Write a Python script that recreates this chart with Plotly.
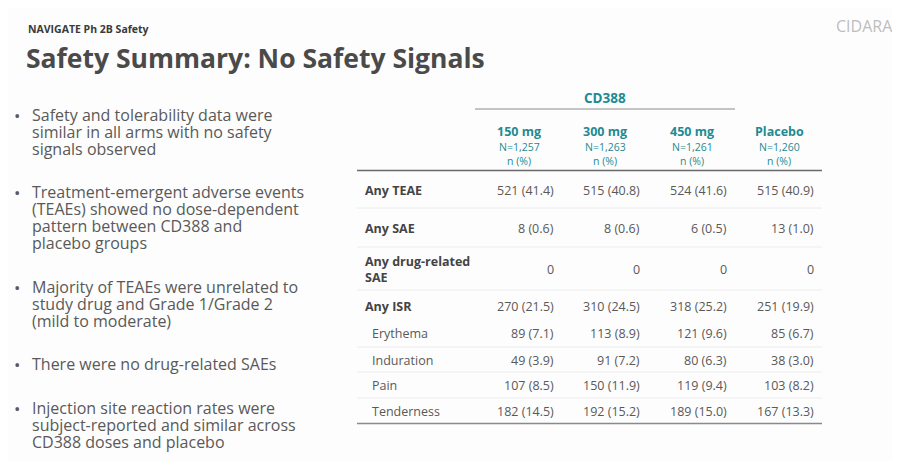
import plotly.graph_objects as go

# Slide text
kicker = "NAVIGATE Ph 2B Safety"
title = "Safety Summary: No Safety Signals"
logo = "CIDARA"

bullets = [
    ["Safety and tolerability data were", "similar in all arms with no safety", "signals observed"],
    ["Treatment-emergent adverse events", "(TEAEs) showed no dose-dependent",
     "pattern between CD388 and", "placebo groups"],
    ["Majority of TEAEs were unrelated to", "study drug and Grade 1/Grade 2", "(mild to moderate)"],
    ["There were no drug-related SAEs"],
    ["Injection site reaction rates were", "subject-reported and similar across",
     "CD388 doses and placebo"],
]

# Table data
group_label = "CD388"
arms = ["150 mg", "300 mg", "450 mg", "Placebo"]
arm_n = ["N=1,257", "N=1,263", "N=1,261", "N=1,260"]
rows = ["Any TEAE", "Any SAE", "Any drug-related<br>SAE", "Any ISR",
        "Erythema", "Induration", "Pain", "Tenderness"]
sub_rows = ["Erythema", "Induration", "Pain", "Tenderness"]

counts = {
    "150 mg":  [521, 8, 0, 270, 89, 49, 107, 182],
    "300 mg":  [515, 8, 0, 310, 113, 91, 150, 192],
    "450 mg":  [524, 6, 0, 318, 121, 80, 119, 189],
    "Placebo": [515, 13, 0, 251, 85, 38, 103, 167],
}
pcts = {
    "150 mg":  [41.4, 0.6, None, 21.5, 7.1, 3.9, 8.5, 14.5],
    "300 mg":  [40.8, 0.6, None, 24.5, 8.9, 7.2, 11.9, 15.2],
    "450 mg":  [41.6, 0.5, None, 25.2, 9.6, 6.3, 9.4, 15.0],
    "Placebo": [40.9, 1.0, None, 19.9, 6.7, 3.0, 8.2, 13.3],
}

TEAL = "#1f8a92"
DARK = "#444444"
GREY = "#595959"
FONT = "Open Sans"

fig = go.Figure()
ann = []
shapes = []

def txt(x, y, s, size, color, xanchor="left", weight="normal"):
    ann.append(dict(x=x, y=y, xref="x", yref="y", text=s, showarrow=False,
                    xanchor=xanchor, yanchor="middle", align="left", borderpad=0,
                    font=dict(family=FONT, size=size, color=color, weight=weight)))

def hline(x0, x1, y, color, width):
    shapes.append(dict(type="line", xref="x", yref="y", x0=x0, x1=x1, y0=y, y1=y,
                       line=dict(color=color, width=width)))

# header
txt(27, 29, kicker, 10.5, "#3a3a3a", weight="bold")
txt(25, 58, title, 26.5, "#4a4a4a", weight="bold")
txt(894, 26, logo, 16, "#bdbdbd", xanchor="right")

# bullets
line_y = [[115, 132, 149], [192, 209, 226, 243], [287, 304, 321], [364], [408, 425, 442]]
for lines, ys in zip(bullets, line_y):
    txt(13, ys[0], "•", 17, GREY)
    for s, y in zip(lines, ys):
        txt(31, y, s, 16, GREY)

# table header
txt(605, 98, group_label, 13.5, TEAL, xanchor="center", weight="bold")
hline(475, 735, 109, "#8a8a8a", 1)
col_center = [519, 605, 692, 779]
col_right = [555, 641, 728, 815]
for a, n, cx in zip(arms, arm_n, col_center):
    txt(cx, 131, a, 12.5, TEAL, xanchor="center", weight="bold")
    txt(cx, 146.5, n, 10.5, TEAL, xanchor="center")
    txt(cx, 160.5, "n (%)", 10.5, TEAL, xanchor="center")
hline(357, 822, 170.5, "#6a6a6a", 1.6)

# table body
row_y = [190, 228, 269, 306, 333, 360, 385, 411]
for i, (r, y) in enumerate(zip(rows, row_y)):
    if r in sub_rows:
        txt(371, y, r, 12.5, GREY)
    else:
        txt(364, y, r, 12.5, DARK, weight="bold")
    for a, x in zip(arms, col_right):
        c, p = counts[a][i], pcts[a][i]
        s = f"{c}" if p is None else f"{c} ({p:.1f})"
        txt(x, y, s, 12.5, GREY, xanchor="right")

for y in [208, 247, 290, 347, 372, 398]:
    hline(357, 822, y, "#ececec", 1)
hline(357, 822, 423.5, "#8a8a8a", 1.6)

# page body has an 8px margin, so the axes start at 8 to keep window pixels
fig.update_layout(
    width=892, height=453,
    margin=dict(l=0, r=0, t=0, b=0),
    paper_bgcolor="#fdfdfd", plot_bgcolor="#fdfdfd",
    xaxis=dict(range=[8, 900], visible=False, fixedrange=True),
    yaxis=dict(range=[461, 8], visible=False, fixedrange=True),
    annotations=ann, shapes=shapes, showlegend=False,
)

fig.write_html("out.html")
